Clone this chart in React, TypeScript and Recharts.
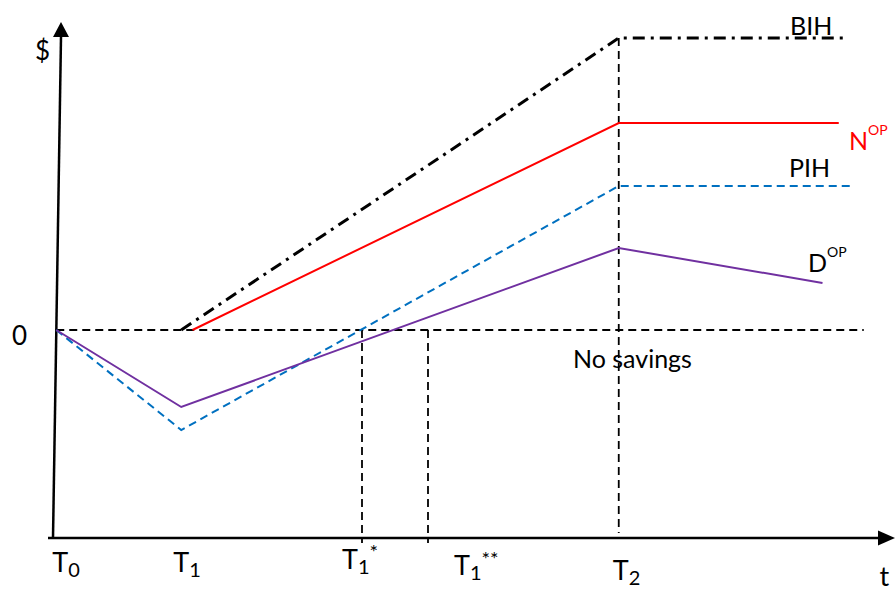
import React from 'react';
import { LineChart, Line, XAxis, YAxis, ReferenceLine, ReferenceDot } from 'recharts';

// ---------- data ----------
const timeTickValues = [0, 10, 24.46, 29.74, 45];
const timeTickMain = ['T', 'T', 'T', 'T', 'T'];
const timeTickSub = ['0', '1', '1', '1', '2'];
const timeTickSup = ['', '', '*', '**', ''];

const bihTime = [10, 45, 63.1];
const bihValue = [0, 29.2, 29.2];
const nopTime = [10.9, 45, 62.6];
const nopValue = [0, 20.7, 20.7];
const pihTime = [0, 10, 45, 63.7];
const pihValue = [0, -10, 14.4, 14.4];
const dopTime = [0, 10, 45, 61.3];
const dopValue = [0, -7.7, 8.2, 4.7];

const zeroLineEnd = 64.6;
const axisBottom = -20.8;
const axisTop = 30.8;
const xAxisEnd = 67.1;

const seriesNames = ['BIH', 'N', 'PIH', 'D'];
const seriesSup = ['', 'OP', '', 'OP'];
const yAxisName = '$';
const xAxisName = 't';
const zeroName = '0';
const noSavingsText = 'No savings';

// ---------- layout / style ----------
const W = 896;
const H = 594;
const X_DOMAIN: [number, number] = [-4.5, 67.18];
const Y_DOMAIN: [number, number] = [-26.4, 33];
const FONT = 'Lato, Carlito, Calibri, "Open Sans", sans-serif';

const COLORS = { bih: '#000000', nop: '#FF0000', pih: '#0070C0', dop: '#7030A0' };

const seriesLabelPos = [
  { x: 58.7, y: 29.5, color: '#000000' },
  { x: 63.42, y: 18.0, color: '#FF0000' },
  { x: 58.62, y: 15.3, color: '#000000' },
  { x: 60.14, y: 5.8, color: '#000000' },
];

const tickLabelOffsets = [
  { dx: -4, dy: 34, supDy: 0 },
  { dx: -8, dy: 34, supDy: 0 },
  { dx: -20, dy: 31, supDy: -15 },
  { dx: 26, dy: 37, supDy: -14 },
  { dx: -6, dy: 42, supDy: 0 },
];

const toPoints = (xs: number[], ys: number[]) => xs.map((x, i) => ({ x, y: ys[i] }));

type Part = { text: string; size: number; dy?: number };

const makeTextShape = (parts: Part[], color = '#000', dx = 0, dy = 0) => (props: any) => {
  const { cx, cy } = props;
  return (
    <text x={cx + dx} y={cy + dy} fill={color} fontFamily={FONT}>
      {parts.map((p, i) => (
        <tspan key={i} fontSize={p.size} dy={p.dy || 0}>
          {p.text}
        </tspan>
      ))}
    </text>
  );
};

const upArrow = (props: any) => {
  const { cx, cy } = props;
  return <polygon points={`${cx},${cy} ${cx - 8},${cy + 15} ${cx + 8},${cy + 15}`} fill="#000" />;
};
const rightArrow = (props: any) => {
  const { cx, cy } = props;
  return <polygon points={`${cx},${cy} ${cx - 17},${cy - 7.5} ${cx - 17},${cy + 7.5}`} fill="#000" />;
};

export default function App() {
  const bih = toPoints(bihTime, bihValue);
  const nop = toPoints(nopTime, nopValue);
  const pih = toPoints(pihTime, pihValue);
  const dop = toPoints(dopTime, dopValue);
  const t2 = timeTickValues[4];

  return (
    <div style={{ position: 'absolute', left: 0, top: 0, width: W, height: H, background: '#fff' }}>
      <LineChart width={W} height={H} margin={{ top: 0, right: 0, bottom: 0, left: 0 }}>
        <XAxis type="number" dataKey="x" domain={X_DOMAIN} hide allowDataOverflow />
        <YAxis type="number" dataKey="y" domain={Y_DOMAIN} hide allowDataOverflow />

        {/* axes */}
        <ReferenceLine
          segment={[{ x: -0.66, y: axisBottom }, { x: 65.74, y: axisBottom }]}
          stroke="#000"
          strokeWidth={2.5}
          ifOverflow="visible"
        />
        <ReferenceLine
          segment={[{ x: -0.26, y: axisBottom }, { x: 0.38, y: 29.3 }]}
          stroke="#000"
          strokeWidth={2.5}
          ifOverflow="visible"
        />
        <ReferenceDot x={xAxisEnd} y={axisBottom} shape={rightArrow} ifOverflow="visible" />
        <ReferenceDot x={0.38} y={axisTop} shape={upArrow} ifOverflow="visible" />

        {/* zero line and verticals */}
        <ReferenceLine
          segment={[{ x: 0, y: 0 }, { x: zeroLineEnd, y: 0 }]}
          stroke="#000"
          strokeWidth={2}
          strokeDasharray="8 5"
          ifOverflow="visible"
        />
        <ReferenceLine
          segment={[{ x: timeTickValues[2], y: 0 }, { x: timeTickValues[2], y: -21.3 }]}
          stroke="#000"
          strokeWidth={1.8}
          strokeDasharray="8 5"
          ifOverflow="visible"
        />
        <ReferenceLine
          segment={[{ x: timeTickValues[3], y: 0 }, { x: timeTickValues[3], y: -21.3 }]}
          stroke="#000"
          strokeWidth={1.8}
          strokeDasharray="8 5"
          ifOverflow="visible"
        />
        <ReferenceLine
          segment={[{ x: t2, y: bihValue[1] }, { x: t2, y: -20.3 }]}
          stroke="#000"
          strokeWidth={1.8}
          strokeDasharray="8 5"
          ifOverflow="visible"
        />

        {/* series */}
        <Line data={bih} dataKey="y" type="linear" stroke={COLORS.bih} strokeWidth={3} strokeDasharray="12 6 3 6" dot={false} activeDot={false} isAnimationActive={false} />
        <Line data={nop} dataKey="y" type="linear" stroke={COLORS.nop} strokeWidth={2} dot={false} activeDot={false} isAnimationActive={false} />
        <Line data={pih} dataKey="y" type="linear" stroke={COLORS.pih} strokeWidth={2} strokeDasharray="8 5" dot={false} activeDot={false} isAnimationActive={false} />
        <Line data={dop} dataKey="y" type="linear" stroke={COLORS.dop} strokeWidth={2} dot={false} activeDot={false} isAnimationActive={false} />

        {/* series labels */}
        {seriesNames.map((name, i) => (
          <ReferenceDot
            key={'sl' + i}
            x={seriesLabelPos[i].x}
            y={seriesLabelPos[i].y}
            ifOverflow="visible"
            shape={makeTextShape(
              seriesSup[i]
                ? [
                    { text: name, size: 25 },
                    { text: seriesSup[i], size: 14, dy: -15 },
                  ]
                : [{ text: name, size: 25 }],
              seriesLabelPos[i].color
            )}
          />
        ))}

        {/* other text */}
        <ReferenceDot x={41.34} y={-3.8} ifOverflow="visible" shape={makeTextShape([{ text: noSavingsText, size: 25 }])} />
        <ReferenceDot x={-1.7} y={27.0} ifOverflow="visible" shape={makeTextShape([{ text: yAxisName, size: 26 }])} />
        <ReferenceDot x={-3.54} y={-1.5} ifOverflow="visible" shape={makeTextShape([{ text: zeroName, size: 26 }])} />
        <ReferenceDot x={65.85} y={-25.6} ifOverflow="visible" shape={makeTextShape([{ text: xAxisName, size: 27 }])} />

        {/* time tick labels */}
        {timeTickValues.map((v, i) => {
          const o = tickLabelOffsets[i];
          const parts: Part[] = [
            { text: timeTickMain[i], size: 27 },
            { text: timeTickSub[i], size: 20, dy: 5 },
          ];
          if (timeTickSup[i]) parts.push({ text: timeTickSup[i], size: 20, dy: o.supDy });
          return (
            <ReferenceDot
              key={'tk' + i}
              x={v}
              y={axisBottom}
              ifOverflow="visible"
              shape={makeTextShape(parts, '#000', o.dx, o.dy)}
            />
          );
        })}
      </LineChart>
    </div>
  );
}
